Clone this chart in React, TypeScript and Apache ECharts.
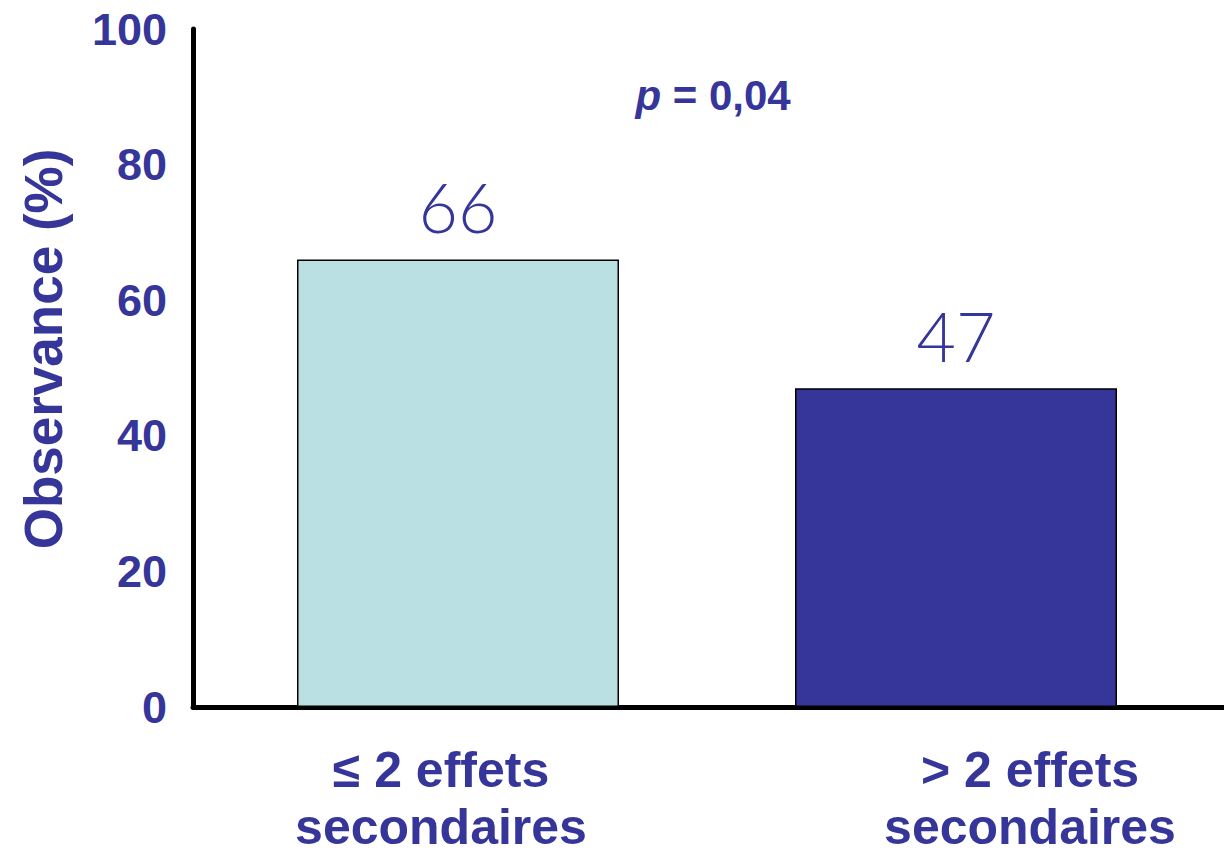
import React, { useEffect, useRef } from "react";
import * as echarts from "echarts";

// Observance by number of side effects
const categories: string[] = ["≤ 2 effets\nsecondaires", "> 2 effets\nsecondaires"];
const observance: number[] = [66, 47];
const barColors: string[] = ["#BBE0E3", "#35359A"];
const yTicks = { min: 0, max: 100, interval: 20 };
const pValueText = "0,04";

const TEXT = "#35359A";
const FONT = "'Liberation Sans', Arial, sans-serif";

// horizontal nudges (px) for the two category captions
const captionShift: number[] = [-17, 74];

function captionStyle(shift: number, lineHeight: number) {
  return {
    color: TEXT,
    fontFamily: FONT,
    fontWeight: "bold",
    fontSize: 50,
    lineHeight,
    padding: shift < 0 ? [0, -2 * shift, 0, 0] : [0, 0, 0, 2 * shift],
  };
}

export default function App() {
  const ref = useRef<HTMLDivElement>(null);

  useEffect(() => {
    if (!ref.current) return;
    const chart = echarts.init(ref.current, undefined, { renderer: "svg" });

    const rich: Record<string, any> = {};
    captionShift.forEach((s, i) => {
      rich[`a${i}`] = captionStyle(s, 80);
      rich[`b${i}`] = captionStyle(s, 34);
    });

    const option: echarts.EChartsOption = {
      animation: false,
      backgroundColor: "#ffffff",
      grid: [
        { left: 193, right: 0, top: 29, bottom: 147, outerBoundsMode: "none" } as any,
        { left: 209, right: 19, top: 29, bottom: 147, outerBoundsMode: "none" } as any,
      ],
      xAxis: [
        {
          gridIndex: 0,
          type: "value",
          min: 0,
          max: 1,
          axisLine: { show: true, onZero: false, lineStyle: { color: "#000", width: 5 } },
          axisTick: { show: false },
          axisLabel: { show: false },
          splitLine: { show: false },
        },
        {
          gridIndex: 1,
          type: "category",
          data: categories,
          axisLine: { show: false },
          axisTick: { show: false },
          axisLabel: {
            margin: 23,
            interval: 0,
            formatter: (value: string, index: number) => {
              const [first, second] = value.split("\n");
              return `{a${index}|${first}}\n{b${index}|${second}}`;
            },
            rich,
          },
        },
      ],
      yAxis: [
        {
          gridIndex: 0,
          type: "value",
          min: yTicks.min,
          max: yTicks.max,
          interval: yTicks.interval,
          axisLine: { show: true, lineStyle: { color: "#000", width: 5 } },
          axisTick: { show: false },
          splitLine: { show: false },
          axisLabel: {
            margin: 26,
            color: TEXT,
            fontFamily: FONT,
            fontWeight: "bold",
            fontSize: 45,
          },
          name: "Observance (%)",
          nameLocation: "middle",
          nameRotate: 90,
          nameGap: 123,
          nameTextStyle: {
            color: TEXT,
            fontFamily: FONT,
            fontWeight: "bold",
            fontSize: 53,
            padding: [0, 0, 0, 38],
          },
        },
        {
          gridIndex: 1,
          type: "value",
          min: yTicks.min,
          max: yTicks.max,
          interval: yTicks.interval,
          show: false,
        },
      ],
      series: [
        {
          type: "bar",
          xAxisIndex: 1,
          yAxisIndex: 1,
          barWidth: 322,
          data: observance.map((v, i) => ({
            value: v,
            itemStyle: { color: barColors[i], borderColor: "#000", borderWidth: 1.5 },
          })),
          label: {
            show: true,
            position: "top",
            distance: 19,
            color: TEXT,
            fontFamily: "Lato, 'DejaVu Sans', sans-serif",
            fontWeight: 300,
            fontSize: 68,
            lineHeight: 68,
          },
        },
      ],
      graphic: [
        {
          type: "text",
          x: 713,
          y: 95,
          style: {
            text: `{i|p}{b| = ${pValueText}}`,
            align: "center",
            verticalAlign: "middle",
            rich: {
              i: { fill: TEXT, fontFamily: FONT, fontWeight: "bold", fontStyle: "italic", fontSize: 42 },
              b: { fill: TEXT, fontFamily: FONT, fontWeight: "bold", fontSize: 42 },
            },
          } as any,
        },
      ],
    };

    chart.setOption(option);
    return () => chart.dispose();
  }, []);

  return <div ref={ref} style={{ width: 1224, height: 854, position: "absolute", left: 0, top: 0 }} />;
}
